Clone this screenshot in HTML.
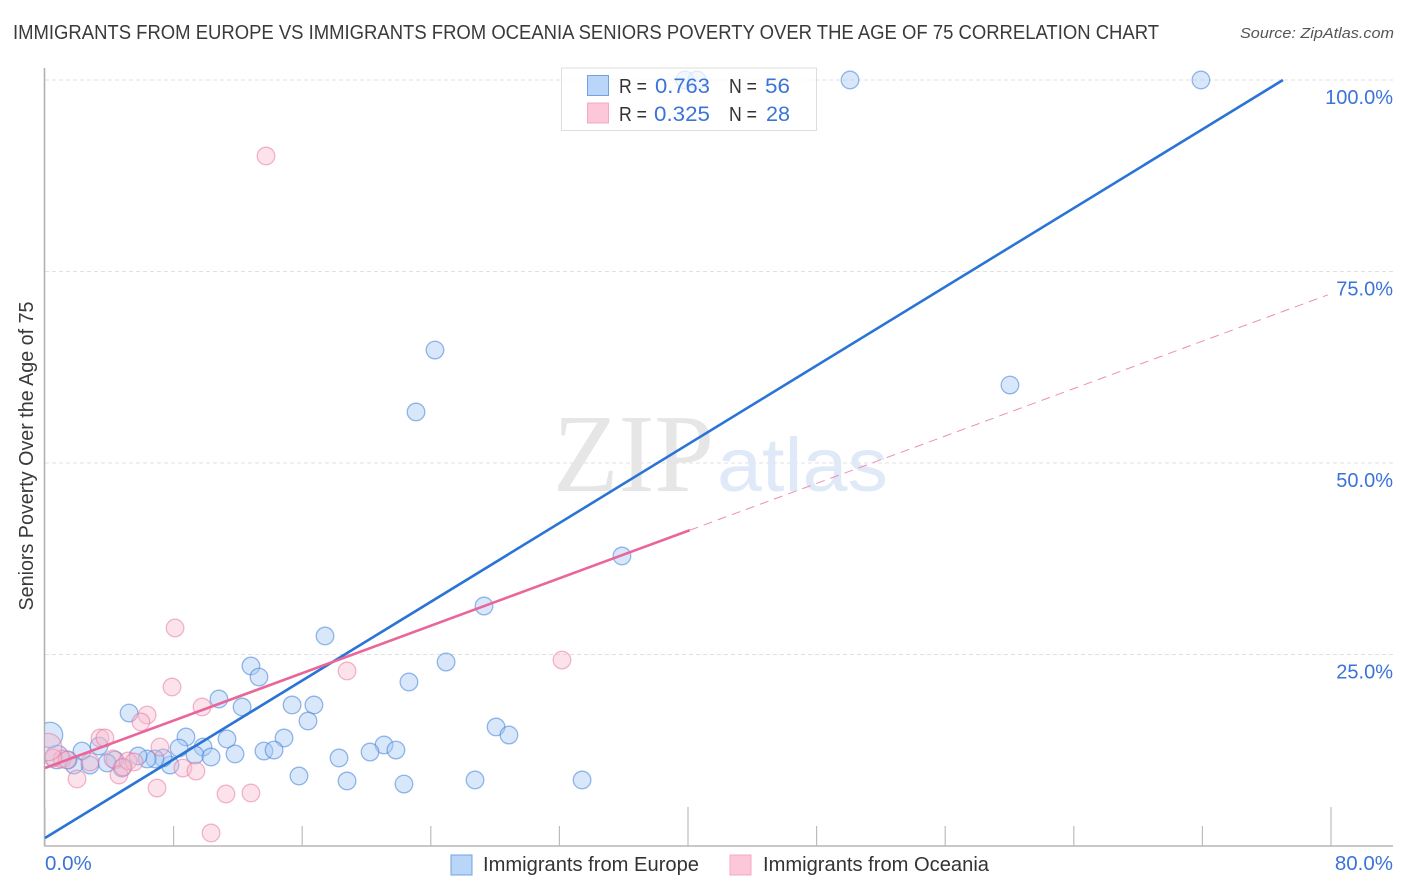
<!DOCTYPE html>
<html lang="en">
<head>
<meta charset="utf-8">
<title>Immigrants from Europe vs Immigrants from Oceania Seniors Poverty Correlation Chart</title>
<style>
html,body{margin:0;padding:0;background:#fff;width:1406px;height:892px;overflow:hidden}
svg{display:block;font-family:"Liberation Sans",sans-serif}
</style>
</head>
<body>
<svg id="chart" xmlns="http://www.w3.org/2000/svg" width="1406" height="892" viewBox="0 0 1406 892">
  <defs>
    <clipPath id="plot-clip"><rect x="45" y="60" width="1348" height="786"/></clipPath>
  </defs>
  <rect x="0" y="0" width="1406" height="892" fill="#fff"/>
  <text x="13" y="39" font-size="20" fill="#3a3a3a" textLength="1146" lengthAdjust="spacingAndGlyphs">IMMIGRANTS FROM EUROPE VS IMMIGRANTS FROM OCEANIA SENIORS POVERTY OVER THE AGE OF 75 CORRELATION CHART</text>
  <text x="1394" y="38" font-size="15" font-style="italic" fill="#555" text-anchor="end" textLength="154" lengthAdjust="spacingAndGlyphs">Source: ZipAtlas.com</text>
  <g id="grid"></g>
  <g>
    <text x="553" y="491" font-family="'Liberation Serif',serif" font-size="111" fill="#e6e6e6" textLength="161" lengthAdjust="spacingAndGlyphs">ZIP</text>
    <text x="717" y="491" font-size="76" fill="#dfe9f8" textLength="171" lengthAdjust="spacingAndGlyphs">atlas</text>
  </g>
  <g id="axes"></g>
  <g id="points" clip-path="url(#plot-clip)"></g>
  <g id="trends"></g>
  <g id="tick-labels"></g>
  <text transform="translate(33,456) rotate(-90)" font-size="20" fill="#3a3a3a" text-anchor="middle" textLength="309" lengthAdjust="spacingAndGlyphs">Seniors Poverty Over the Age of 75</text>

  <g>
    <rect x="561.5" y="68" width="255" height="62.5" fill="#fff" fill-opacity="0.72" stroke="#ddd" stroke-width="1"/>
    <rect x="587.5" y="75.5" width="21" height="20" fill="#b9d5f8" stroke="#70a2e4"/>
    <rect x="587.5" y="103" width="21" height="20" fill="#fcc7d8" stroke="#f4a9c1"/>
    <text x="619" y="93" font-size="20" fill="#333" textLength="28" lengthAdjust="spacingAndGlyphs">R =</text>
    <text x="655" y="93" font-size="21.5" fill="#3b74d8" textLength="55" lengthAdjust="spacingAndGlyphs">0.763</text>
    <text x="729" y="93" font-size="20" fill="#333" textLength="28" lengthAdjust="spacingAndGlyphs">N =</text>
    <text x="765" y="93" font-size="21.5" fill="#3b74d8" textLength="25" lengthAdjust="spacingAndGlyphs">56</text>
    <text x="619" y="121" font-size="20" fill="#333" textLength="28" lengthAdjust="spacingAndGlyphs">R =</text>
    <text x="654" y="121" font-size="21.5" fill="#3b74d8" textLength="56" lengthAdjust="spacingAndGlyphs">0.325</text>
    <text x="729" y="121" font-size="20" fill="#333" textLength="28" lengthAdjust="spacingAndGlyphs">N =</text>
    <text x="766" y="121" font-size="21.5" fill="#3b74d8" textLength="24" lengthAdjust="spacingAndGlyphs">28</text>
  </g>

  <g>
    <g>
      <rect x="451" y="855" width="21" height="20" fill="#b9d5f8" stroke="#70a2e4"/>
      <text x="483" y="871" font-size="20" fill="#333" textLength="216" lengthAdjust="spacingAndGlyphs">Immigrants from Europe</text>
    </g>
    <g>
      <rect x="730" y="855" width="21" height="20" fill="#fcc7d8" stroke="#f4a9c1"/>
      <text x="763" y="871" font-size="20" fill="#333" textLength="226" lengthAdjust="spacingAndGlyphs">Immigrants from Oceania</text>
    </g>
  </g>
</svg>
<script>
const europeX = [24.26,23.08,50.08,71.91,60.03,35.89,27.31,17.42,12.81,13.31,24.95,22.64,10.82,12.26,15.37,16.73,16.36,5.23,28.06,28.86,8.77,11.32,14.87,8.34,9.83,9.33,10.33,11.82,13.62,14.25,21.09,21.83,20.22,18.29,15.80,18.79,22.33,26.75,33.41,7.78,7.34,6.84,6.35,5.79,4.35,4.79,3.86,3.36,2.30,2.80,1.80,1.43,0.75,0.31,39.81,40.56];
const europeY = [64.75,56.66,100,100,60.18,37.86,31.33,27.42,23.50,22.06,24.02,21.41,19.19,18.15,18.41,18.41,16.32,17.36,15.54,14.49,14.23,13.97,14.10,12.79,12.92,11.88,11.62,12.01,12.40,12.53,13.19,12.53,12.27,11.49,9.14,8.49,8.09,8.62,8.62,10.57,11.49,11.36,11.36,11.75,11.23,10.18,10.84,13.05,12.40,10.57,10.57,11.23,11.62,14.49,100,100];
const europeWeight = [1,1,1,1,1,1,1,1,1,1,1,1,1,1,1,1,1,1,1,1,1,1,1,1,1,1,1,1,1,1,1,1,1,1,1,1,1,1,1,1,1,1,1,1,1,1,1,1,1,1,1,1,1.78,2.09,1,1];
const oceaniaX = [13.75,32.16,18.79,8.09,7.90,6.35,5.97,9.77,3.42,3.73,7.15,4.23,5.16,5.54,4.60,4.85,2.80,1.99,8.58,9.39,6.97,11.26,12.81,10.33,1.06,1.37,0.50,0.19];
const oceaniaY = [90.08,24.28,22.85,28.46,20.76,17.10,16.19,18.15,14.10,14.10,12.92,11.36,11.10,10.97,9.27,10.31,10.97,8.75,10.18,9.79,7.57,6.79,6.92,1.70,11.36,11.23,11.49,12.92];
const oceaniaWeight = [1,1,1,1,1,1,1,1,1,1,1,1,1,1,1,1,1,1,1,1,1,1,1,1,1,1,1,2.4];
const europeTrend = [1.04, 1.285];
const oceaniaTrend = [10.18, 0.774];
const oceaniaSolidEnd = 40.1;
const oceaniaDashEnd = 79.8;
const xTicks = [0,8,16,24,32,40,48,56,64,72,80];
const xMajorTicks = [0,40,80];
const xLabelTicks = [0,80];
const xTickLabels = ["0.0%","80.0%"];
const yTicks = [25,50,75,100];
const yTickLabels = ["25.0%","50.0%","75.0%","100.0%"];

const NS = "http://www.w3.org/2000/svg";
function xScale(v){ return 45 + v * 16.075; }
function yScale(v){ return 846 - v * 7.66; }
function make(tag, attrs, parent){
  const el = document.createElementNS(NS, tag);
  for (const k in attrs) el.setAttribute(k, attrs[k]);
  parent.appendChild(el);
  return el;
}
const gridG = document.getElementById("grid");
const axesG = document.getElementById("axes");
const pointsG = document.getElementById("points");
const trendsG = document.getElementById("trends");
const labelsG = document.getElementById("tick-labels");

yTicks.forEach(function(t, i){
  const line = make("line", {x1:45, x2:1393, y1:yScale(t), y2:yScale(t), stroke:"#e0e0e0", "stroke-width":1, "stroke-dasharray":"4 3"}, gridG);
  
  
  const label = make("text", {x:1393, y:yScale(t)+24, "font-size":20, fill:"#3b74d8", "text-anchor":"end"}, labelsG);
  label.textContent = yTickLabels[i];
  
  
});

const yAxis = make("line", {x1:44.5, x2:44.5, y1:68, y2:846, stroke:"#aeaeae", "stroke-width":1.5}, axesG);


const xAxis = make("line", {x1:44, x2:1393, y1:846, y2:846, stroke:"#b5b5b5", "stroke-width":1.5}, axesG);


xTicks.forEach(function(t){
  const top = xMajorTicks.indexOf(t) >= 0 ? 807 : 826;
  const tick = make("line", {x1:xScale(t), x2:xScale(t), y1:top, y2:846, stroke:"#bcbcbc", "stroke-width":1.2}, axesG);
  
  
});
xLabelTicks.forEach(function(t, i){
  const label = make("text", {x: i === 0 ? xScale(t) : 1393, y:870, "font-size":20.5, fill:"#3b74d8", "text-anchor": i === 0 ? "start" : "end"}, labelsG);
  label.textContent = xTickLabels[i];
  
  
});

function radius(w){ return 8.8 * Math.sqrt(w); }
europeX.forEach(function(v, i){
  const c = make("circle", {cx:xScale(v), cy:yScale(europeY[i]), r:radius(europeWeight[i]), fill:"#a9c9f3", "fill-opacity":0.45, stroke:"#3f7fd8", "stroke-opacity":0.55, "stroke-width":1.3}, pointsG);
  
  
});
oceaniaX.forEach(function(v, i){
  const c = make("circle", {cx:xScale(v), cy:yScale(oceaniaY[i]), r:radius(oceaniaWeight[i]), fill:"#f8b8cd", "fill-opacity":0.4, stroke:"#e8729a", "stroke-opacity":0.5, "stroke-width":1.3}, pointsG);
  
  
});

const blueEndX = (100 - europeTrend[0]) / europeTrend[1];
const blueLine = make("line", {x1:xScale(0), y1:yScale(europeTrend[0]), x2:xScale(blueEndX), y2:yScale(100), stroke:"#2a74d6", "stroke-width":2.6}, trendsG);


const pinkLine = make("line", {x1:xScale(0), y1:yScale(oceaniaTrend[0]), x2:xScale(oceaniaSolidEnd), y2:yScale(oceaniaTrend[0] + oceaniaTrend[1]*oceaniaSolidEnd), stroke:"#e9669a", "stroke-width":2.6}, trendsG);


const pinkDash = make("line", {x1:xScale(oceaniaSolidEnd), y1:yScale(oceaniaTrend[0] + oceaniaTrend[1]*oceaniaSolidEnd), x2:xScale(oceaniaDashEnd), y2:yScale(oceaniaTrend[0] + oceaniaTrend[1]*oceaniaDashEnd), stroke:"#eb8fb0", "stroke-width":1, "stroke-dasharray":"9 6"}, trendsG);


</script>
</body>
</html>
